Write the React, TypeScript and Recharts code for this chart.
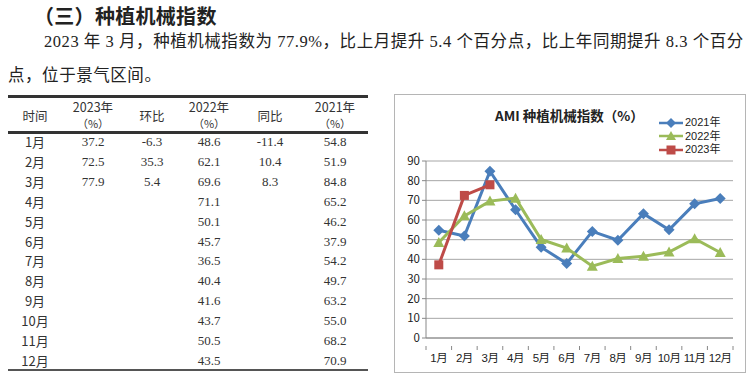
import React from "react";
import { LineChart, Line, XAxis, YAxis, CartesianGrid } from "recharts";

const months = ["1月", "2月", "3月", "4月", "5月", "6月", "7月", "8月", "9月", "10月", "11月", "12月"];
const y2023: (number | null)[] = [37.2, 72.5, 77.9, null, null, null, null, null, null, null, null, null];
const mom: (number | null)[] = [-6.3, 35.3, 5.4, null, null, null, null, null, null, null, null, null];
const y2022 = [48.6, 62.1, 69.6, 71.1, 50.1, 45.7, 36.5, 40.4, 41.6, 43.7, 50.5, 43.5];
const yoy: (number | null)[] = [-11.4, 10.4, 8.3, null, null, null, null, null, null, null, null, null];
const y2021 = [54.8, 51.9, 84.8, 65.2, 46.2, 37.9, 54.2, 49.7, 63.2, 55.0, 68.2, 70.9];
const yTicks = [0, 10, 20, 30, 40, 50, 60, 70, 80, 90];

const BLUE = "#4a7ebb";
const GREEN = "#9bbb59";
const RED = "#be4b48";

const chartData = months.map((m, i) => ({
  month: m,
  y2021: y2021[i],
  y2022: y2022[i],
  y2023: y2023[i],
}));

const serif = '"Liberation Serif", "DejaVu Serif", "Noto Sans CJK SC", serif';
const sans = '"Noto Sans CJK SC", "Liberation Sans", sans-serif';
const latinFirst = '"Liberation Sans", "Noto Sans CJK SC", sans-serif';

const PLOT_W = 307;
const BAND = PLOT_W / 12;

const Diamond = (props: any) => {
  const { cx, cy } = props;
  if (cx == null || cy == null || props.value == null) return <g key={props.key} />;
  return (
    <polygon
      key={props.key}
      points={`${cx},${cy - 5.5} ${cx + 5.5},${cy} ${cx},${cy + 5.5} ${cx - 5.5},${cy}`}
      fill={BLUE}
    />
  );
};

const Triangle = (props: any) => {
  const { cx, cy } = props;
  if (cx == null || cy == null || props.value == null) return <g key={props.key} />;
  return (
    <polygon
      key={props.key}
      points={`${cx},${cy - 5.5} ${cx + 5.5},${cy + 4.5} ${cx - 5.5},${cy + 4.5}`}
      fill={GREEN}
    />
  );
};

const Square = (props: any) => {
  const { cx, cy } = props;
  if (cx == null || cy == null || props.value == null) return <g key={props.key} />;
  return <rect key={props.key} x={cx - 4.5} y={cy - 4.5} width={9} height={9} fill={RED} />;
};

const MonthTick = (props: any) => {
  const { x, y, payload, index } = props;
  return (
    <g>
      <line x1={x - BAND / 2} y1={y} x2={x - BAND / 2} y2={y + 4} stroke="#888" />
      {index === 11 && <line x1={x + BAND / 2} y1={y} x2={x + BAND / 2} y2={y + 4} stroke="#888" />}
      <text x={x} y={y + 16} textAnchor="middle" fontSize={11.5} letterSpacing={-0.5} fill="#222" fontFamily={latinFirst}>
        {payload.value}
      </text>
    </g>
  );
};

const legendItems = [
  { label: "2021年", color: BLUE, shape: "diamond" },
  { label: "2022年", color: GREEN, shape: "triangle" },
  { label: "2023年", color: RED, shape: "square" },
];

const ChartLegend = () => (
  <div style={{ position: "absolute", left: 263, top: 21, fontFamily: latinFirst, fontSize: 11, color: "#222" }}>
    {legendItems.map((it) => (
      <div key={it.label} style={{ display: "flex", alignItems: "center", height: 13.5, lineHeight: "13.5px" }}>
        <svg width={26} height={12}>
          <line x1={1} y1={6} x2={25} y2={6} stroke={it.color} strokeWidth={2.5} />
          {it.shape === "diamond" && <polygon points="13,1 18,6 13,11 8,6" fill={it.color} />}
          {it.shape === "triangle" && <polygon points="13,1 18,10 8,10" fill={it.color} />}
          {it.shape === "square" && <rect x={8.5} y={1.5} width={9} height={9} fill={it.color} />}
        </svg>
        <span style={{ marginLeft: 1 }}>{it.label}</span>
      </div>
    ))}
  </div>
);

const fmt = (v: number | null) => (v == null ? "" : v.toFixed(1));

const colX = [35, 93, 152, 209, 270, 335];

export default function App() {
  return (
    <div style={{ position: "fixed", left: 0, top: 0, width: 750, height: 375, background: "#fff", overflow: "hidden" }}>
      <div style={{ position: "absolute", left: 34, top: 1, fontFamily: sans, fontWeight: 700, fontSize: 20, color: "#222", letterSpacing: 0.3 }}>
        （三）种植机械指数
      </div>
      <div style={{ position: "absolute", left: 44, top: 28, fontFamily: serif, fontSize: 16.5, letterSpacing: 0.55, color: "#222", whiteSpace: "nowrap" }}>
        2023 年 3 月，种植机械指数为 77.9%，比上月提升 5.4 个百分点，比上年同期提升 8.3 个百分
      </div>
      <div style={{ position: "absolute", left: 8, top: 62, fontFamily: serif, fontSize: 16.5, letterSpacing: 0.55, color: "#222", whiteSpace: "nowrap" }}>
        点，位于景气区间。
      </div>

      {/* table */}
      <div style={{ position: "absolute", left: 8, top: 95, width: 360, height: 2.5, background: "#333" }} />
      <div style={{ position: "absolute", left: 8, top: 131, width: 360, height: 2.5, background: "#333" }} />
      <div style={{ position: "absolute", left: 8, top: 369, width: 360, height: 2, background: "#555" }} />
      {[
        ["时间", null],
        ["2023年", "（%）"],
        ["环比", null],
        ["2022年", "（%）"],
        ["同比", null],
        ["2021年", "（%）"],
      ].map(([a, b], i) => (
        <div
          key={i}
          style={{
            position: "absolute",
            left: colX[i] - 40,
            width: 80,
            top: b ? 99 : 108,
            textAlign: "center",
            fontFamily: sans,
            fontSize: 12.5,
            lineHeight: "16px",
            color: "#333",
          }}
        >
          <div>{a}</div>
          {b && <div style={{ fontSize: 11 }}>{b}</div>}
        </div>
      ))}
      {months.map((m, r) => {
        const cells = [m, fmt(y2023[r]), fmt(mom[r]), fmt(y2022[r]), fmt(yoy[r]), fmt(y2021[r])];
        return cells.map((c, i) => (
          <div
            key={`${r}-${i}`}
            style={{
              position: "absolute",
              left: colX[i] - 40,
              width: 80,
              top: 133 + r * 19.9,
              textAlign: "center",
              fontFamily: i === 0 ? sans : serif,
              fontSize: 13,
              lineHeight: "18px",
              color: "#333",
            }}
          >
            {c}
          </div>
        ));
      })}

      {/* chart box */}
      <div style={{ position: "absolute", left: 394, top: 94, width: 350, height: 277, border: "1px solid #b5b5b5", background: "#fff" }}>
        <div style={{ position: "absolute", left: 100, top: 10, fontFamily: sans, fontWeight: 700, fontSize: 13.5, color: "#222", whiteSpace: "nowrap" }}>
          AMI 种植机械指数（%）
        </div>
        <ChartLegend />
        <div style={{ position: "absolute", left: 0, top: 0 }}>
          <LineChart width={350} height={277} data={chartData} margin={{ top: 66, right: 12, bottom: 8, left: 6 }}>
            <CartesianGrid vertical={false} stroke="#a6a6a6" strokeWidth={1} />
            <XAxis
              dataKey="month"
              interval={0}
              tickLine={false}
              axisLine={{ stroke: "#888" }}
              tick={<MonthTick />}
              padding={{ left: BAND / 2, right: BAND / 2 }}
              height={26}
            />
            <YAxis
              domain={[0, 90]}
              ticks={yTicks}
              interval={0}
              width={25}
              axisLine={{ stroke: "#888" }}
              tickLine={{ stroke: "#888" }}
              tickSize={4}
              tick={{ fontSize: 11.5, fill: "#222", fontFamily: sans }}
            />
            <Line dataKey="y2021" stroke={BLUE} strokeWidth={3} dot={<Diamond />} isAnimationActive={false} />
            <Line dataKey="y2022" stroke={GREEN} strokeWidth={3} dot={<Triangle />} isAnimationActive={false} />
            <Line dataKey="y2023" stroke={RED} strokeWidth={3} dot={<Square />} isAnimationActive={false} />
          </LineChart>
        </div>
      </div>
    </div>
  );
}
